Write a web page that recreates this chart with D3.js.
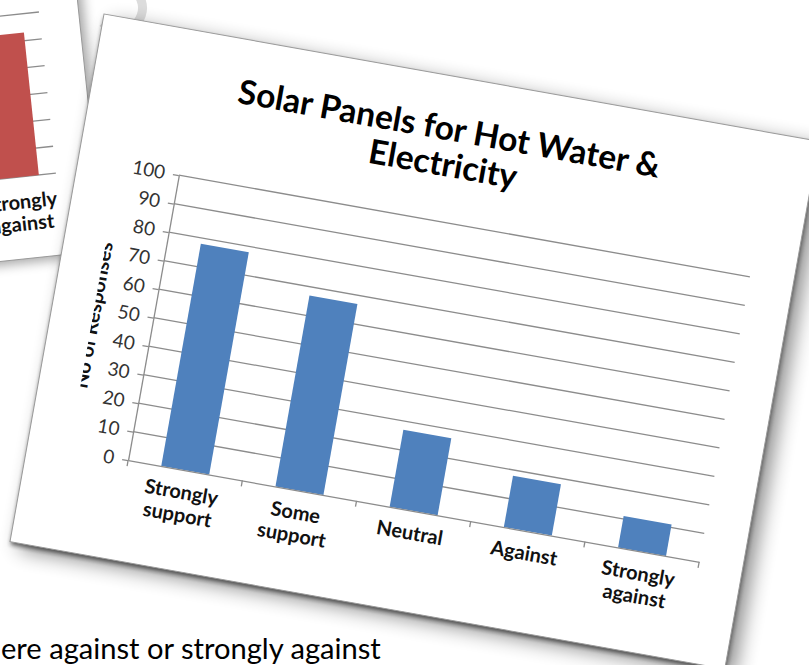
<!DOCTYPE html>
<html><head><meta charset="utf-8">
<script src="https://cdn.jsdelivr.net/npm/d3@7"></script>
<style>
html,body{margin:0;padding:0;background:#fff;overflow:hidden}
svg{display:block}
text{font-family:Lato,"Open Sans","Noto Sans",sans-serif}
</style>
</head><body>
<svg id="c" width="809" height="665"></svg>
<script>
// ---------- data ----------
const categories = ["Strongly support", "Some support", "Neutral", "Against", "Strongly against"];
const categoryLines = [["Strongly", "support"], ["Some", "support"], ["Neutral"], ["Against"], ["Strongly", "against"]];
const responses = [78, 67, 27, 18, 11];
const yTicks = [0, 10, 20, 30, 40, 50, 60, 70, 80, 90, 100];
const titleLines = ["Solar Panels for Hot Water &", "Electricity"];
const yAxisTitle = "No of Responses";

const backCategories = ["Strongly against"];
const backCategoryLines = [["Strongly", "against"]];
const backValues = [53];
const backTicks = [0, 10, 20, 30, 40, 50, 60, 70, 80, 90, 100];

const captionText = "ere against or strongly against";

// ---------- setup ----------
const svg = d3.select("#c");
const defs = svg.append("defs");
function blur(id, sd) {
  defs.append("filter").attr("id", id)
    .attr("x", "-20%").attr("y", "-20%").attr("width", "140%").attr("height", "140%")
    .append("feGaussianBlur").attr("stdDeviation", sd);
}
blur("b10", 10); blur("b6", 6); blur("b2", 2);

svg.append("rect").attr("width", 809).attr("height", 665).attr("fill", "#fff");

// faint grey ring behind the cards
svg.append("path")
  .attr("transform", "translate(120,8)")
  .attr("d", d3.arc().innerRadius(18).outerRadius(27).startAngle(-0.2).endAngle(4.0)())
  .attr("fill", "#dcdcdc");

// ---------- back card (red chart, mostly hidden) ----------
const back = svg.append("g").attr("transform", "rotate(-6)");
back.append("rect").attr("x", -500).attr("y", -300).attr("width", 577).attr("height", 560)
  .attr("fill", "#000").attr("opacity", 0.35).attr("filter", "url(#b6)")
  .attr("transform", "translate(5,4)");
back.append("rect").attr("x", -500).attr("y", -300).attr("width", 577).attr("height", 560)
  .attr("fill", "#fff").attr("stroke", "#9a9a9a").attr("stroke-width", 1);

const backPlot = { left: -400, right: 37.5, bottom: 178 };
const yb = d3.scaleLinear().domain([0, 100]).range([backPlot.bottom, backPlot.bottom - 270]);
const xb = d3.scaleBand().domain(backCategories).range([-62, 54]).paddingInner(0.58).paddingOuter(0.29);
back.append("g").selectAll("line").data(backTicks).join("line")
  .attr("x1", backPlot.left).attr("x2", backPlot.right)
  .attr("y1", d => yb(d)).attr("y2", d => yb(d))
  .attr("stroke", "#8c8c8c").attr("stroke-width", 1.3);
back.append("g").selectAll("rect").data(backValues).join("rect")
  .attr("x", (d, i) => xb(backCategories[i])).attr("width", xb.bandwidth())
  .attr("y", d => yb(d)).attr("height", d => yb(0) - yb(d))
  .attr("fill", "#C0504D");
back.append("g").selectAll("text").data(backCategoryLines).join("text")
  .attr("x", (d, i) => xb(backCategories[i]) + xb.bandwidth() / 2 + 3)
  .attr("y", backPlot.bottom + 32)
  .attr("text-anchor", "middle").attr("font-weight", 700).attr("font-size", 20).attr("fill", "#111")
  .selectAll("tspan").data(d => d).join("tspan")
  .attr("x", function () { return d3.select(this.parentNode).attr("x"); })
  .attr("dy", (d, i) => i === 0 ? 0 : 22)
  .text(d => d);

// ---------- front card ----------
const CW = 726, CH = 536;
const card = svg.append("g").attr("transform", "translate(104,14) rotate(10.1)");
card.append("rect").attr("x", 10).attr("y", 6).attr("width", CW).attr("height", CH)
  .attr("fill", "#000").attr("opacity", 0.45).attr("filter", "url(#b10)");
card.append("rect").attr("x", 1).attr("y", 3).attr("width", CW).attr("height", CH)
  .attr("fill", "#222").attr("opacity", 0.65).attr("filter", "url(#b2)");
card.append("rect").attr("width", CW).attr("height", CH)
  .attr("fill", "#fff").attr("stroke", "#9a9a9a").attr("stroke-width", 1);

const plot = { left: 102, right: 682, top: 145.5, bottom: 435 };
const x = d3.scaleBand().domain(categories).range([plot.left, plot.right])
  .paddingInner(0.58).paddingOuter(0.29);
const y = d3.scaleLinear().domain([0, 100]).range([plot.bottom, plot.top]);
const gridColor = "#8c8c8c";

// gridlines
card.append("g").selectAll("line").data(yTicks.filter(t => t > 0)).join("line")
  .attr("x1", plot.left).attr("x2", plot.right)
  .attr("y1", d => y(d)).attr("y2", d => y(d))
  .attr("stroke", gridColor).attr("stroke-width", 1.3);

// y axis
const yAxis = card.append("g").attr("transform", `translate(${plot.left},0)`)
  .call(d3.axisLeft(y).tickValues(yTicks).tickSizeInner(6).tickSizeOuter(0).tickPadding(8));
yAxis.select(".domain").attr("stroke", gridColor).attr("stroke-width", 1.3);
yAxis.selectAll(".tick line").attr("stroke", gridColor).attr("stroke-width", 1.3);
yAxis.selectAll(".tick text").attr("font-size", 19).attr("fill", "#333")
  .attr("font-family", "Lato, sans-serif");

// bars
card.append("g").selectAll("rect").data(responses).join("rect")
  .attr("x", (d, i) => x(categories[i])).attr("width", x.bandwidth())
  .attr("y", d => y(d)).attr("height", d => y(0) - y(d))
  .attr("fill", "#4F81BD");

// x axis
const xAxis = card.append("g").attr("transform", `translate(0,${plot.bottom})`)
  .call(d3.axisBottom(x).tickSize(0).tickFormat(""));
xAxis.select(".domain").attr("stroke", gridColor).attr("stroke-width", 1.3);
const boundaries = d3.range(categories.length + 1).map(i => plot.left + i * x.step());
xAxis.append("g").selectAll("line").data(boundaries).join("line")
  .attr("x1", d => d).attr("x2", d => d).attr("y1", 0).attr("y2", 6)
  .attr("stroke", gridColor).attr("stroke-width", 1.3);

// category labels
card.append("g").selectAll("text").data(categoryLines).join("text")
  .attr("x", (d, i) => x(categories[i]) + x.bandwidth() / 2)
  .attr("y", plot.bottom + 29)
  .attr("text-anchor", "middle").attr("font-weight", 700).attr("font-size", 20).attr("fill", "#111")
  .selectAll("tspan").data(d => d).join("tspan")
  .attr("x", function () { return d3.select(this.parentNode).attr("x"); })
  .attr("dy", (d, i) => i === 0 ? 0 : 23)
  .text(d => d);

// y axis title (partly clipped as in the original)
defs.append("clipPath").attr("id", "ytclip").append("rect")
  .attr("x", 42).attr("y", 0).attr("width", 60).attr("height", CH);
card.append("g").attr("clip-path", "url(#ytclip)")
  .append("text")
  .attr("transform", `translate(49,${(plot.top + plot.bottom) / 2 + 8}) rotate(-90)`)
  .attr("text-anchor", "middle").attr("font-weight", 700).attr("font-size", 20).attr("fill", "#111")
  .text(yAxisTitle);

// title
const title = card.append("g").attr("text-anchor", "middle").attr("font-weight", 700).attr("fill", "#000");
const tl = title.selectAll("text").data(titleLines).join("text")
  .attr("x", 360).attr("y", (d, i) => 64 + i * 36)
  .attr("font-size", 34).text(d => d);
{
  const w = tl.nodes()[0].getComputedTextLength();
  const fs = 34 * 428 / w;
  tl.attr("font-size", fs);
}

// ---------- caption ----------
const cap = svg.append("text").attr("x", 1).attr("y", 659)
  .attr("font-size", 30).attr("fill", "#000").text(captionText);
{
  const w = cap.node().getComputedTextLength();
  cap.attr("font-size", 30 * 380 / w);
}
</script>
</body></html>
